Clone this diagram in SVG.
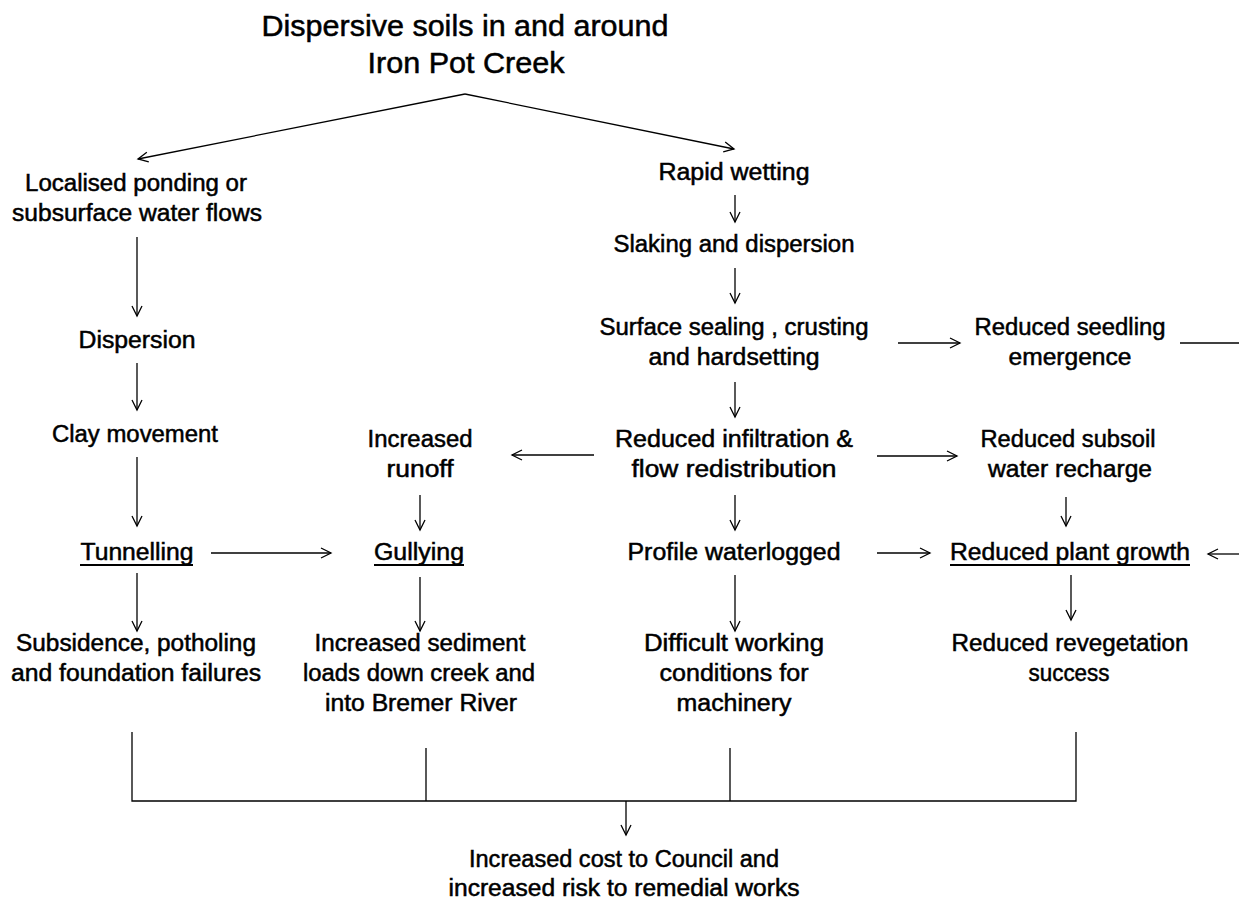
<svg xmlns="http://www.w3.org/2000/svg" width="1239" height="907" viewBox="0 0 1239 907">
<style>
text{font-family:"Liberation Sans","DejaVu Sans",Arial,sans-serif;font-size:23px;fill:#000;text-anchor:middle;stroke:#000;stroke-width:0.5px}
.title{font-size:29px}
.ul{stroke:#000;stroke-width:2.2}
.c{stroke:#000;stroke-width:1.3;fill:none}
.a{marker-end:url(#ah)}
</style>
<defs>
<marker id="ah" markerUnits="userSpaceOnUse" markerWidth="14" markerHeight="14" refX="11" refY="6" orient="auto">
<path d="M1,1 L11,6 L1,11" fill="none" stroke="#000" stroke-width="1.3"/>
</marker>
</defs>
<rect width="1239" height="907" fill="#fff"/>

<g id="connectors">
<line class="c a" x1="465" y1="94" x2="138" y2="159"/>
<line class="c a" x1="465" y1="94" x2="734" y2="149"/>
<line class="c a" x1="137" y1="237" x2="137" y2="316"/>
<line class="c a" x1="137" y1="363" x2="137" y2="410"/>
<line class="c a" x1="137" y1="457" x2="137" y2="526"/>
<line class="c a" x1="137" y1="573" x2="137" y2="631"/>
<line class="c a" x1="211" y1="553" x2="331" y2="553"/>
<line class="c a" x1="420" y1="495" x2="420" y2="530"/>
<line class="c a" x1="420" y1="577" x2="420" y2="631"/>
<line class="c a" x1="594" y1="455" x2="512" y2="455"/>
<line class="c a" x1="735" y1="195" x2="735" y2="222"/>
<line class="c a" x1="735" y1="268" x2="735" y2="303"/>
<line class="c a" x1="735" y1="382" x2="735" y2="417"/>
<line class="c a" x1="735" y1="495" x2="735" y2="530"/>
<line class="c a" x1="735" y1="575" x2="735" y2="631"/>
<line class="c a" x1="898" y1="343" x2="960" y2="343"/>
<line class="c" x1="1180" y1="343" x2="1239" y2="343"/>
<line class="c a" x1="877" y1="456" x2="957" y2="456"/>
<line class="c a" x1="1066" y1="497" x2="1066" y2="526"/>
<line class="c a" x1="877" y1="553" x2="930" y2="553"/>
<line class="c a" x1="1239" y1="554" x2="1208" y2="554"/>
<line class="c a" x1="1071" y1="575" x2="1071" y2="620"/>
<path class="c" d="M132,732 V801 H1076 V732 M426,748 V801 M730,748 V801"/>
<line class="c a" x1="626" y1="801" x2="626" y2="835"/>
</g>

<g id="n-title">
<text class="title" x="465" y="36" textLength="407" lengthAdjust="spacingAndGlyphs">Dispersive soils in and around</text>
<text class="title" x="466" y="73" textLength="197" lengthAdjust="spacingAndGlyphs">Iron Pot Creek</text>
</g>
<g id="n-localised">
<text x="136" y="191" textLength="222" lengthAdjust="spacingAndGlyphs">Localised ponding or</text>
<text x="137" y="221" textLength="250" lengthAdjust="spacingAndGlyphs">subsurface water flows</text>
</g>
<g id="n-dispersion"><text x="137" y="348" textLength="117" lengthAdjust="spacingAndGlyphs">Dispersion</text></g>
<g id="n-clay"><text x="135" y="442" textLength="166" lengthAdjust="spacingAndGlyphs">Clay movement</text></g>
<g id="n-tunnelling">
<text x="137" y="560" textLength="113" lengthAdjust="spacingAndGlyphs">Tunnelling</text>
<line class="ul" x1="80" y1="565" x2="193" y2="565"/>
</g>
<g id="n-subsidence">
<text x="136" y="651" textLength="240" lengthAdjust="spacingAndGlyphs">Subsidence, potholing</text>
<text x="136" y="681" textLength="250" lengthAdjust="spacingAndGlyphs">and foundation failures</text>
</g>
<g id="n-runoff">
<text x="420" y="447" textLength="105" lengthAdjust="spacingAndGlyphs">Increased</text>
<text x="420" y="477" textLength="67" lengthAdjust="spacingAndGlyphs">runoff</text>
</g>
<g id="n-gullying">
<text x="419" y="560" textLength="90" lengthAdjust="spacingAndGlyphs">Gullying</text>
<line class="ul" x1="374" y1="565" x2="464" y2="565"/>
</g>
<g id="n-sediment">
<text x="420" y="651" textLength="211" lengthAdjust="spacingAndGlyphs">Increased sediment</text>
<text x="419" y="681" textLength="232" lengthAdjust="spacingAndGlyphs">loads down creek and</text>
<text x="421" y="711" textLength="192" lengthAdjust="spacingAndGlyphs">into Bremer River</text>
</g>
<g id="n-rapid"><text x="734" y="180" textLength="151" lengthAdjust="spacingAndGlyphs">Rapid wetting</text></g>
<g id="n-slaking"><text x="734" y="252" textLength="241" lengthAdjust="spacingAndGlyphs">Slaking and dispersion</text></g>
<g id="n-surface">
<text x="734" y="335" textLength="269" lengthAdjust="spacingAndGlyphs">Surface sealing , crusting</text>
<text x="734" y="365" textLength="171" lengthAdjust="spacingAndGlyphs">and hardsetting</text>
</g>
<g id="n-infiltration">
<text x="734" y="447" textLength="238" lengthAdjust="spacingAndGlyphs">Reduced infiltration &amp;</text>
<text x="734" y="477" textLength="205" lengthAdjust="spacingAndGlyphs">flow redistribution</text>
</g>
<g id="n-profile"><text x="734" y="560" textLength="213" lengthAdjust="spacingAndGlyphs">Profile waterlogged</text></g>
<g id="n-difficult">
<text x="734" y="651" textLength="180" lengthAdjust="spacingAndGlyphs">Difficult working</text>
<text x="734" y="681" textLength="149" lengthAdjust="spacingAndGlyphs">conditions for</text>
<text x="734" y="711" textLength="115" lengthAdjust="spacingAndGlyphs">machinery</text>
</g>
<g id="n-seedling">
<text x="1070" y="335" textLength="191" lengthAdjust="spacingAndGlyphs">Reduced seedling</text>
<text x="1070" y="365" textLength="123" lengthAdjust="spacingAndGlyphs">emergence</text>
</g>
<g id="n-subsoil">
<text x="1068" y="447" textLength="175" lengthAdjust="spacingAndGlyphs">Reduced subsoil</text>
<text x="1070" y="477" textLength="164" lengthAdjust="spacingAndGlyphs">water recharge</text>
</g>
<g id="n-plant">
<text x="1070" y="560" textLength="240" lengthAdjust="spacingAndGlyphs">Reduced plant growth</text>
<line class="ul" x1="950" y1="565" x2="1190" y2="565"/>
</g>
<g id="n-reveg">
<text x="1070" y="651" textLength="237" lengthAdjust="spacingAndGlyphs">Reduced revegetation</text>
<text x="1069" y="681" textLength="81" lengthAdjust="spacingAndGlyphs">success</text>
</g>
<g id="n-cost">
<text x="624" y="867" textLength="310" lengthAdjust="spacingAndGlyphs">Increased cost to Council and</text>
<text x="624" y="896" textLength="351" lengthAdjust="spacingAndGlyphs">increased risk to remedial works</text>
</g>
</svg>
